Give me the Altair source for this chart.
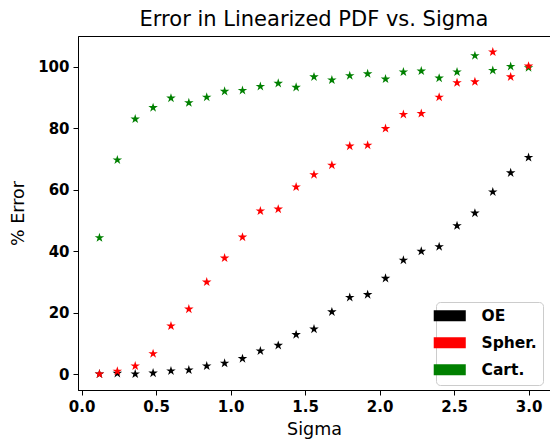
import altair as alt
import pandas as pd

sigma = [0.12, 0.24, 0.36, 0.48, 0.60, 0.72, 0.84, 0.96, 1.08, 1.20, 1.32, 1.44, 1.56,
         1.68, 1.80, 1.92, 2.04, 2.16, 2.28, 2.40, 2.52, 2.64, 2.76, 2.88, 3.00]
oe = [0.1, 0.3, 0.1, 0.4, 1.1, 1.4, 2.7, 3.6, 5.1, 7.6, 9.4, 12.9, 14.7,
      20.3, 25.0, 25.9, 31.2, 37.1, 40.0, 41.5, 48.3, 52.4, 59.3, 65.5, 70.5]
spher = [0.1, 1.0, 2.7, 6.7, 15.7, 21.2, 30.0, 37.8, 44.6, 53.1, 53.7, 60.9, 64.9,
         68.0, 74.2, 74.5, 79.9, 84.5, 84.8, 90.1, 94.8, 95.1, 104.8, 96.7, 100.2]
cart = [44.4, 69.7, 83.0, 86.7, 89.8, 88.3, 90.1, 92.0, 92.3, 93.6, 94.6, 93.3, 96.7,
        95.7, 97.1, 97.7, 96.0, 98.3, 98.6, 96.3, 98.3, 103.6, 98.8, 100.1, 99.7]

series = ["OE", "Spher.", "Cart."]
colors = ["black", "red", "green"]
x_ticks = [0.0, 0.5, 1.0, 1.5, 2.0, 2.5, 3.0]
y_ticks = [0, 20, 40, 60, 80, 100]

rows = []
for name, vals in [("OE", oe), ("Cart.", cart), ("Spher.", spher)]:
    for s, v in zip(sigma, vals):
        rows.append({"Sigma": s, "Error": v, "Method": name})
df = pd.DataFrame(rows)

star = ("M0,-1L0.2245,-0.309L0.951,-0.309L0.363,0.118L0.588,0.809L0,0.382"
        "L-0.588,0.809L-0.363,0.118L-0.951,-0.309L-0.2245,-0.309Z")
rect_sym = "M-2.67,-0.92L2.67,-0.92L2.67,0.92L-2.67,0.92Z"

FONT = "DejaVu Sans"

chart = alt.Chart(df).mark_point(
    shape=star, filled=True, size=100, opacity=1
).encode(
    x=alt.X("Sigma:Q",
            scale=alt.Scale(domain=[-0.024, 3.144], nice=False, zero=False),
            axis=alt.Axis(values=x_ticks, format=".1f", title="Sigma",
                          titlePadding=6)),
    y=alt.Y("Error:Q",
            scale=alt.Scale(domain=[-5.1, 110], nice=False, zero=False),
            axis=alt.Axis(values=y_ticks, format="d", title="% Error",
                          titlePadding=10)),
    color=alt.Color("Method:N",
                    scale=alt.Scale(domain=series, range=colors),
                    legend=alt.Legend(
                        title=None, orient="none", legendX=358, legendY=266,
                        symbolType=rect_sym, symbolSize=144, symbolStrokeWidth=0,
                        symbolOpacity=1,
                        labelFont=FONT, labelFontSize=15.5, labelFontWeight="bold",
                        labelColor="black", labelOffset=24,
                        fillColor="white", strokeColor="#cccccc", cornerRadius=4,
                        padding=6, rowPadding=10)),
).properties(
    width=472, height=354,
    title=alt.TitleParams("Error in Linearized PDF vs. Sigma", font=FONT,
                          fontSize=21, fontWeight="normal", color="black",
                          offset=6, anchor="middle"),
    autosize=alt.AutoSizeParams(type="none"),
    padding={"left": 78, "top": 36, "right": 0, "bottom": 50},
).configure_view(
    stroke="black", strokeWidth=1
).configure_axis(
    grid=False, labelFont=FONT, labelFontSize=15, labelFontWeight="bold",
    labelColor="black", tickColor="black", domainColor="black", tickSize=5,
    labelPadding=4, titleFont=FONT, titleFontSize=17.5, titleFontWeight="normal",
    titleColor="black"
)

chart.save("out.html", embed_options={"renderer": "svg", "actions": False})
